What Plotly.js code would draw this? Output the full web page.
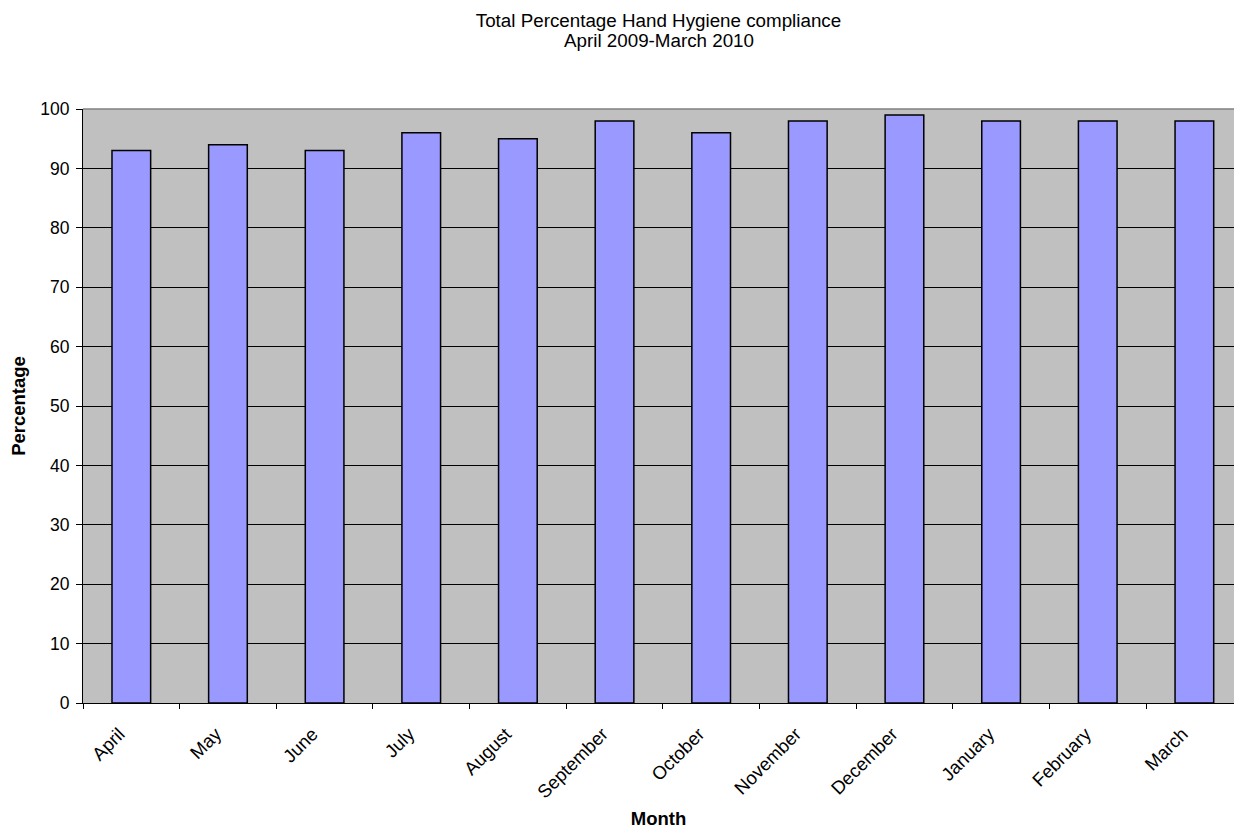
<!DOCTYPE html>
<html>
<head>
<meta charset="utf-8">
<script src="https://cdn.plot.ly/plotly-3.0.1.min.js"></script>
<style>html,body{margin:0;padding:0;overflow:hidden;background:#fff}</style>
</head>
<body>
<div id="chart" style="width:1234px;height:829px"></div>
<script>
const months = ["April","May","June","July","August","September","October","November","December","January","February","March"];
const compliance = [93,94,93,96,95,98,96,98,99,98,98,98];
const yTicks = [0,10,20,30,40,50,60,70,80,90,100];
const titleLine1 = "Total Percentage Hand Hygiene compliance";
const titleLine2 = "April 2009-March 2010";

const font = "Liberation Sans, Arial, sans-serif";
Plotly.newPlot("chart", [{
  type: "bar",
  x: months,
  y: compliance,
  width: 0.4,
  marker: {color: "#9999ff", line: {color: "#000000", width: 1.5}},
  hoverinfo: "x+y"
}], {
  width: 1234, height: 829,
  paper_bgcolor: "#ffffff",
  plot_bgcolor: "#c0c0c0",
  margin: {l: 83, r: 0, t: 109, b: 126},
  showlegend: false,
  font: {family: font, size: 17.5, color: "#000"},
  title: {text: titleLine1, x: 0.5, xref: "paper", xanchor: "center", yref: "container", y: 1 - 20/829, yanchor: "middle", font: {family: font, size: 18.8, color: "#000"}},
  annotations: [{text: titleLine2, xref: "paper", yref: "paper", x: 0.5, xanchor: "center", y: (703 - 40) / 594, yanchor: "middle", showarrow: false, font: {family: font, size: 18.8, color: "#000"}}],
  xaxis: {
    type: "category",
    range: [-0.5, 11.41],
    tickson: "boundaries",
    ticks: "outside", ticklen: 5, tickcolor: "#000",
    tickangle: -45,
    tickfont: {family: font, size: 18.5},
    ticklabelstandoff: 12,
    ticklabelshift: -12,
    showline: true, linecolor: "#000", linewidth: 1,
    showgrid: false, zeroline: false,
    title: {text: "<b>Month</b>", font: {family: font, size: 18.5}, standoff: 16}
  },
  yaxis: {
    range: [0, 100],
    tickvals: yTicks,
    ticks: "outside", ticklen: 6, tickcolor: "#000",
    tickfont: {family: font, size: 17.5},
    ticklabelstandoff: 3,
    showline: true, linecolor: "#000", linewidth: 1,
    showgrid: true, gridcolor: "#000", gridwidth: 1,
    zeroline: false,
    title: {text: "<b>Percentage</b>", font: {family: font, size: 18.5}, standoff: 9}
  },
  shapes: [{type: "line", xref: "paper", yref: "paper", x0: 0, x1: 1, y0: 1, y1: 1, line: {color: "#808080", width: 1.5}}]
}, {displayModeBar: false, staticPlot: true});
</script>
</body>
</html>
